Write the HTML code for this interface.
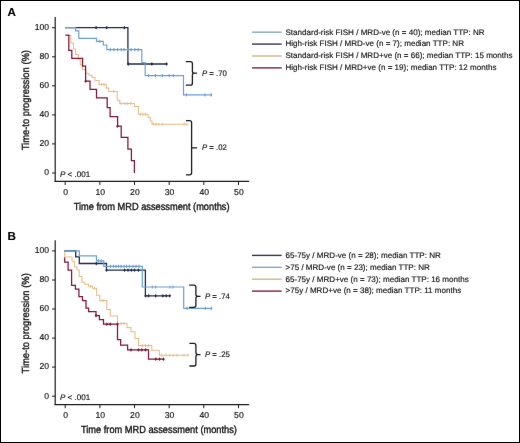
<!DOCTYPE html>
<html><head><meta charset="utf-8"><style>
html,body{margin:0;padding:0;background:#fff;}
svg{display:block;font-family:"Liberation Sans", sans-serif;text-rendering:geometricPrecision;}
#w{width:520px;height:443px;overflow:hidden;will-change:transform;}
text{stroke:#111;stroke-width:0.15px;}
</style></head><body><div id="w">
<svg width="520" height="443" viewBox="0 0 520 443">
<defs><filter id="bl" x="0" y="0" width="520" height="443" filterUnits="userSpaceOnUse" color-interpolation-filters="sRGB"><feConvolveMatrix order="3" kernelMatrix="0.00163 0.03713 0.00163 0.03713 0.84497 0.03713 0.00163 0.03713 0.00163" edgeMode="duplicate" preserveAlpha="true"/></filter></defs>
<g filter="url(#bl)">
<rect x="0" y="0" width="520" height="443" fill="#fff"/>
<text x="7.5" y="16.4" font-size="11.6" font-weight="bold" fill="#000" style="stroke:#000;stroke-width:0.15px">A</text>
<line x1="55.2" y1="17.0" x2="55.2" y2="181.9" stroke="#1a1a1a" stroke-width="1.2"/>
<line x1="54.6" y1="181.4" x2="249.2" y2="181.4" stroke="#1a1a1a" stroke-width="1.2"/>
<line x1="52" y1="173.0" x2="55.2" y2="173.0" stroke="#1a1a1a" stroke-width="1"/>
<text x="49.1" y="175.35" font-size="8.6" text-anchor="end" fill="#111">0</text>
<line x1="52" y1="143.9" x2="55.2" y2="143.9" stroke="#1a1a1a" stroke-width="1"/>
<text x="49.1" y="146.29" font-size="8.6" text-anchor="end" fill="#111">20</text>
<line x1="52" y1="114.9" x2="55.2" y2="114.9" stroke="#1a1a1a" stroke-width="1"/>
<text x="49.1" y="117.23" font-size="8.6" text-anchor="end" fill="#111">40</text>
<line x1="52" y1="85.8" x2="55.2" y2="85.8" stroke="#1a1a1a" stroke-width="1"/>
<text x="49.1" y="88.17" font-size="8.6" text-anchor="end" fill="#111">60</text>
<line x1="52" y1="56.8" x2="55.2" y2="56.8" stroke="#1a1a1a" stroke-width="1"/>
<text x="49.1" y="59.11" font-size="8.6" text-anchor="end" fill="#111">80</text>
<line x1="52" y1="27.7" x2="55.2" y2="27.7" stroke="#1a1a1a" stroke-width="1"/>
<text x="49.1" y="30.05" font-size="8.6" text-anchor="end" fill="#111">100</text>
<line x1="65.2" y1="181.4" x2="65.2" y2="185.0" stroke="#1a1a1a" stroke-width="1"/>
<text x="65.6" y="195.0" font-size="8.6" text-anchor="middle" fill="#111">0</text>
<line x1="99.9" y1="181.4" x2="99.9" y2="185.0" stroke="#1a1a1a" stroke-width="1"/>
<text x="100.3" y="195.0" font-size="8.6" text-anchor="middle" fill="#111">10</text>
<line x1="134.5" y1="181.4" x2="134.5" y2="185.0" stroke="#1a1a1a" stroke-width="1"/>
<text x="134.9" y="195.0" font-size="8.6" text-anchor="middle" fill="#111">20</text>
<line x1="169.2" y1="181.4" x2="169.2" y2="185.0" stroke="#1a1a1a" stroke-width="1"/>
<text x="169.6" y="195.0" font-size="8.6" text-anchor="middle" fill="#111">30</text>
<line x1="203.8" y1="181.4" x2="203.8" y2="185.0" stroke="#1a1a1a" stroke-width="1"/>
<text x="204.2" y="195.0" font-size="8.6" text-anchor="middle" fill="#111">40</text>
<line x1="238.5" y1="181.4" x2="238.5" y2="185.0" stroke="#1a1a1a" stroke-width="1"/>
<text x="238.9" y="195.0" font-size="8.6" text-anchor="middle" fill="#111">50</text>
<text x="73.7" y="209.8" font-size="10.3" textLength="155.9" lengthAdjust="spacingAndGlyphs" fill="#111" style="stroke-width:0.35px">Time from MRD assessment (months)</text>
<text transform="translate(28.6,150.3) rotate(-90)" x="0" y="0" font-size="10.3" textLength="100.3" lengthAdjust="spacingAndGlyphs" fill="#111" style="stroke-width:0.35px">Time-to progression (%)</text>
<text x="60.0" y="176.9" font-size="8.05" fill="#111"><tspan font-style="italic">P</tspan> &lt; .001</text>
<line x1="252" y1="32.2" x2="281.7" y2="32.2" stroke="#86a6c6" stroke-width="1.4"/>
<text x="285.5" y="34.55" font-size="8.05" fill="#111">Standard-risk FISH / MRD-ve (n = 40); median TTP: NR</text>
<line x1="252" y1="44.1" x2="281.7" y2="44.1" stroke="#30374f" stroke-width="1.4"/>
<text x="285.5" y="46.45" font-size="8.05" fill="#111">High-risk FISH / MRD-ve (n = 7); median TTP: NR</text>
<line x1="252" y1="56.0" x2="281.7" y2="56.0" stroke="#cdb786" stroke-width="1.4"/>
<text x="285.5" y="58.35" font-size="8.05" fill="#111">Standard-risk FISH / MRD+ve (n = 66); median TTP: 15 months</text>
<line x1="252" y1="67.9" x2="281.7" y2="67.9" stroke="#7a2040" stroke-width="1.4"/>
<text x="285.5" y="70.25" font-size="8.05" fill="#111">High-risk FISH / MRD+ve (n = 19); median TTP: 12 months</text>
<polyline points="65.5,35.4 70.8,35.4 70.8,42.9 73.5,42.9 73.5,49.0 75.6,49.0 75.6,54.4 78.3,54.4 78.3,59.2 80.3,59.2 80.3,64.6 82.3,64.6 82.3,69.4 85.7,69.4 85.7,73.3 89.0,73.3 89.0,75.3 92.0,75.3 92.0,77.4 95.0,77.4 95.0,80.5 99.0,80.5 99.0,84.4 106.3,84.4 106.3,88.1 108.7,88.1 108.7,91.5 117.2,91.5 117.2,100.3 119.8,100.3 119.8,103.5 134.4,103.5 134.4,106.4 138.4,106.4 138.4,114.3 148.2,114.3 148.2,117.5 150.2,117.5 150.2,121.0 152.0,121.0 152.0,124.2 188.3,124.2" fill="none" stroke="#e5bc86" stroke-width="1.05"/>
<line x1="101.7" y1="82.9" x2="101.7" y2="85.9" stroke="#e5bc86" stroke-width="1.0"/>
<line x1="104.0" y1="82.9" x2="104.0" y2="85.9" stroke="#e5bc86" stroke-width="1.0"/>
<line x1="113.8" y1="90.0" x2="113.8" y2="93.0" stroke="#e5bc86" stroke-width="1.0"/>
<line x1="121.1" y1="102.0" x2="121.1" y2="105.0" stroke="#e5bc86" stroke-width="1.0"/>
<line x1="125.2" y1="102.0" x2="125.2" y2="105.0" stroke="#e5bc86" stroke-width="1.0"/>
<line x1="127.7" y1="102.0" x2="127.7" y2="105.0" stroke="#e5bc86" stroke-width="1.0"/>
<line x1="130.7" y1="102.0" x2="130.7" y2="105.0" stroke="#e5bc86" stroke-width="1.0"/>
<line x1="140.4" y1="112.8" x2="140.4" y2="115.8" stroke="#e5bc86" stroke-width="1.0"/>
<line x1="142.9" y1="112.8" x2="142.9" y2="115.8" stroke="#e5bc86" stroke-width="1.0"/>
<line x1="145.5" y1="112.8" x2="145.5" y2="115.8" stroke="#e5bc86" stroke-width="1.0"/>
<line x1="153.7" y1="122.7" x2="153.7" y2="125.7" stroke="#e5bc86" stroke-width="1.0"/>
<line x1="156.0" y1="122.7" x2="156.0" y2="125.7" stroke="#e5bc86" stroke-width="1.0"/>
<line x1="158.8" y1="122.7" x2="158.8" y2="125.7" stroke="#e5bc86" stroke-width="1.0"/>
<line x1="162.3" y1="122.7" x2="162.3" y2="125.7" stroke="#e5bc86" stroke-width="1.0"/>
<line x1="184.2" y1="122.7" x2="184.2" y2="125.7" stroke="#e5bc86" stroke-width="1.0"/>
<line x1="186.8" y1="122.7" x2="186.8" y2="125.7" stroke="#e5bc86" stroke-width="1.0"/>
<polyline points="65.5,35.2 68.8,35.2 68.8,50.4 71.8,50.4 71.8,58.3 82.6,58.3 82.6,66.1 85.6,66.1 85.6,81.2 90.0,81.2 90.0,89.3 96.5,89.3 96.5,97.8 107.2,97.8 107.2,107.5 110.1,107.5 110.1,116.7 117.6,116.7 117.6,126.2 121.2,126.2 121.2,137.4 127.9,137.4 127.9,149.2 131.4,149.2 131.4,160.6 134.4,160.6 134.4,173.0 134.4,173.0" fill="none" stroke="#80133a" stroke-width="1.25"/>
<path d="M85.6,79.3 L86.9,81.2 L85.6,83.1 L84.3,81.2Z" fill="#80133a"/>
<path d="M117.4,124.3 L118.7,126.2 L117.4,128.1 L116.1,126.2Z" fill="#80133a"/>
<polyline points="65.0,27.7 127.9,27.7 127.9,64.0 166.9,64.0" fill="none" stroke="#222a4c" stroke-width="1.3"/>
<path d="M96.1,25.8 L97.4,27.7 L96.1,29.6 L94.8,27.7Z" fill="#222a4c"/>
<path d="M106.7,25.8 L108.0,27.7 L106.7,29.6 L105.4,27.7Z" fill="#222a4c"/>
<path d="M124.4,25.8 L125.7,27.7 L124.4,29.6 L123.1,27.7Z" fill="#222a4c"/>
<path d="M128.2,62.1 L129.5,64.0 L128.2,65.9 L126.9,64.0Z" fill="#222a4c"/>
<path d="M151.9,62.1 L153.2,64.0 L151.9,65.9 L150.6,64.0Z" fill="#222a4c"/>
<path d="M166.6,62.1 L167.9,64.0 L166.6,65.9 L165.3,64.0Z" fill="#222a4c"/>
<polyline points="65.0,27.7 75.6,27.7 75.6,30.9 78.8,30.9 78.8,38.3 96.5,38.3 96.5,41.4 103.3,41.4 103.3,45.0 106.8,45.0 106.8,49.7 141.8,49.7 141.8,62.7 145.2,62.7 145.2,75.6 183.5,75.6 183.5,94.9 211.9,94.9" fill="none" stroke="#6a9fd2" stroke-width="1.2"/>
<line x1="99.8" y1="39.8" x2="99.8" y2="43.0" stroke="#6a9fd2" stroke-width="1.1"/>
<line x1="110.3" y1="48.1" x2="110.3" y2="51.3" stroke="#6a9fd2" stroke-width="1.1"/>
<line x1="113.9" y1="48.1" x2="113.9" y2="51.3" stroke="#6a9fd2" stroke-width="1.1"/>
<line x1="117.6" y1="48.1" x2="117.6" y2="51.3" stroke="#6a9fd2" stroke-width="1.1"/>
<line x1="121.3" y1="48.1" x2="121.3" y2="51.3" stroke="#6a9fd2" stroke-width="1.1"/>
<line x1="124.0" y1="48.1" x2="124.0" y2="51.3" stroke="#6a9fd2" stroke-width="1.1"/>
<line x1="127.7" y1="48.1" x2="127.7" y2="51.3" stroke="#6a9fd2" stroke-width="1.1"/>
<line x1="131.1" y1="48.1" x2="131.1" y2="51.3" stroke="#6a9fd2" stroke-width="1.1"/>
<line x1="134.9" y1="48.1" x2="134.9" y2="51.3" stroke="#6a9fd2" stroke-width="1.1"/>
<line x1="138.2" y1="48.1" x2="138.2" y2="51.3" stroke="#6a9fd2" stroke-width="1.1"/>
<line x1="148.5" y1="74.0" x2="148.5" y2="77.2" stroke="#6a9fd2" stroke-width="1.1"/>
<line x1="155.4" y1="74.0" x2="155.4" y2="77.2" stroke="#6a9fd2" stroke-width="1.1"/>
<line x1="162.3" y1="74.0" x2="162.3" y2="77.2" stroke="#6a9fd2" stroke-width="1.1"/>
<line x1="169.2" y1="74.0" x2="169.2" y2="77.2" stroke="#6a9fd2" stroke-width="1.1"/>
<line x1="173.3" y1="74.0" x2="173.3" y2="77.2" stroke="#6a9fd2" stroke-width="1.1"/>
<line x1="186.5" y1="93.3" x2="186.5" y2="96.5" stroke="#6a9fd2" stroke-width="1.1"/>
<line x1="205.0" y1="93.3" x2="205.0" y2="96.5" stroke="#6a9fd2" stroke-width="1.1"/>
<line x1="211.3" y1="93.3" x2="211.3" y2="96.5" stroke="#6a9fd2" stroke-width="1.1"/>
<path d="M185.8,61.6 H190.4 Q192.4,61.6 192.4,63.6 V71.2 Q192.4,73.2 194.4,73.2 H197.0 M194.4,73.2 Q192.4,73.2 192.4,75.2 V83.2 Q192.4,85.2 190.4,85.2 H185.8" fill="none" stroke="#1a1a1a" stroke-width="1.3"/>
<text x="201.9" y="75.7" font-size="8.05" textLength="24.9" lengthAdjust="spacingAndGlyphs" fill="#111"><tspan font-style="italic">P</tspan> = .70</text>
<path d="M186,120.7 H189.6 Q191.6,120.7 191.6,122.7 V172.8 Q191.6,174.8 189.6,174.8 H186 M191.6,147.9 H197.1" fill="none" stroke="#1a1a1a" stroke-width="1.3"/>
<text x="201.9" y="150.4" font-size="8.05" textLength="24.9" lengthAdjust="spacingAndGlyphs" fill="#111"><tspan font-style="italic">P</tspan> = .02</text>
<text x="7.5" y="239.6" font-size="11.6" font-weight="bold" fill="#000" style="stroke:#000;stroke-width:0.15px">B</text>
<line x1="55.2" y1="240.2" x2="55.2" y2="405.1" stroke="#1a1a1a" stroke-width="1.2"/>
<line x1="54.6" y1="404.6" x2="249.2" y2="404.6" stroke="#1a1a1a" stroke-width="1.2"/>
<line x1="52" y1="396.2" x2="55.2" y2="396.2" stroke="#1a1a1a" stroke-width="1"/>
<text x="49.1" y="398.55" font-size="8.6" text-anchor="end" fill="#111">0</text>
<line x1="52" y1="367.1" x2="55.2" y2="367.1" stroke="#1a1a1a" stroke-width="1"/>
<text x="49.1" y="369.49" font-size="8.6" text-anchor="end" fill="#111">20</text>
<line x1="52" y1="338.1" x2="55.2" y2="338.1" stroke="#1a1a1a" stroke-width="1"/>
<text x="49.1" y="340.43" font-size="8.6" text-anchor="end" fill="#111">40</text>
<line x1="52" y1="309.0" x2="55.2" y2="309.0" stroke="#1a1a1a" stroke-width="1"/>
<text x="49.1" y="311.37" font-size="8.6" text-anchor="end" fill="#111">60</text>
<line x1="52" y1="280.0" x2="55.2" y2="280.0" stroke="#1a1a1a" stroke-width="1"/>
<text x="49.1" y="282.31" font-size="8.6" text-anchor="end" fill="#111">80</text>
<line x1="52" y1="250.9" x2="55.2" y2="250.9" stroke="#1a1a1a" stroke-width="1"/>
<text x="49.1" y="253.25" font-size="8.6" text-anchor="end" fill="#111">100</text>
<line x1="65.2" y1="404.6" x2="65.2" y2="408.2" stroke="#1a1a1a" stroke-width="1"/>
<text x="65.6" y="418.2" font-size="8.6" text-anchor="middle" fill="#111">0</text>
<line x1="99.9" y1="404.6" x2="99.9" y2="408.2" stroke="#1a1a1a" stroke-width="1"/>
<text x="100.3" y="418.2" font-size="8.6" text-anchor="middle" fill="#111">10</text>
<line x1="134.5" y1="404.6" x2="134.5" y2="408.2" stroke="#1a1a1a" stroke-width="1"/>
<text x="134.9" y="418.2" font-size="8.6" text-anchor="middle" fill="#111">20</text>
<line x1="169.2" y1="404.6" x2="169.2" y2="408.2" stroke="#1a1a1a" stroke-width="1"/>
<text x="169.6" y="418.2" font-size="8.6" text-anchor="middle" fill="#111">30</text>
<line x1="203.8" y1="404.6" x2="203.8" y2="408.2" stroke="#1a1a1a" stroke-width="1"/>
<text x="204.2" y="418.2" font-size="8.6" text-anchor="middle" fill="#111">40</text>
<line x1="238.5" y1="404.6" x2="238.5" y2="408.2" stroke="#1a1a1a" stroke-width="1"/>
<text x="238.9" y="418.2" font-size="8.6" text-anchor="middle" fill="#111">50</text>
<text x="81.0" y="433.0" font-size="10.3" textLength="155.9" lengthAdjust="spacingAndGlyphs" fill="#111" style="stroke-width:0.35px">Time from MRD assessment (months)</text>
<text transform="translate(28.6,373.5) rotate(-90)" x="0" y="0" font-size="10.3" textLength="100.3" lengthAdjust="spacingAndGlyphs" fill="#111" style="stroke-width:0.35px">Time-to progression (%)</text>
<text x="60.0" y="400.1" font-size="8.05" fill="#111"><tspan font-style="italic">P</tspan> &lt; .001</text>
<line x1="252" y1="255.4" x2="281.7" y2="255.4" stroke="#30374f" stroke-width="1.4"/>
<text x="285.5" y="257.75" font-size="8.05" fill="#111">65-75y / MRD-ve (n = 28); median TTP: NR</text>
<line x1="252" y1="267.3" x2="281.7" y2="267.3" stroke="#86a6c6" stroke-width="1.4"/>
<text x="285.5" y="269.65" font-size="8.05" fill="#111">&gt;75 / MRD-ve (n = 23); median TTP: NR</text>
<line x1="252" y1="279.2" x2="281.7" y2="279.2" stroke="#cdb786" stroke-width="1.4"/>
<text x="285.5" y="281.55" font-size="8.05" fill="#111">65-75y / MRD+ve (n = 73); median TTP: 16 months</text>
<line x1="252" y1="291.1" x2="281.7" y2="291.1" stroke="#7a2040" stroke-width="1.4"/>
<text x="285.5" y="293.45" font-size="8.05" fill="#111">&gt;75y / MRD+ve (n = 38); median TTP: 11 months</text>
<polyline points="64.7,250.8 64.7,250.8 64.7,257.0 72.0,257.0 72.0,261.3 74.4,261.3 74.4,267.0 77.0,267.0 77.0,270.0 79.2,270.0 79.2,276.4 82.0,276.4 82.0,282.3 84.8,282.3 84.8,284.3 88.5,284.3 88.5,286.3 92.5,286.3 92.5,288.3 96.6,288.3 96.6,295.3 99.8,295.3 99.8,300.6 106.8,300.6 106.8,309.5 110.2,309.5 110.2,315.9 117.5,315.9 117.5,323.5 127.0,323.5 127.0,327.6 131.0,327.6 131.0,331.7 135.0,331.7 135.0,338.5 138.5,338.5 138.5,345.6 151.8,345.6 151.8,350.3 159.3,350.3 159.3,355.2 188.5,355.2" fill="none" stroke="#e5bc86" stroke-width="1.05"/>
<line x1="90.5" y1="284.8" x2="90.5" y2="287.8" stroke="#e5bc86" stroke-width="1.0"/>
<line x1="94.5" y1="286.8" x2="94.5" y2="289.8" stroke="#e5bc86" stroke-width="1.0"/>
<line x1="103.0" y1="299.1" x2="103.0" y2="302.1" stroke="#e5bc86" stroke-width="1.0"/>
<line x1="121.0" y1="322.0" x2="121.0" y2="325.0" stroke="#e5bc86" stroke-width="1.0"/>
<line x1="124.0" y1="322.0" x2="124.0" y2="325.0" stroke="#e5bc86" stroke-width="1.0"/>
<line x1="142.5" y1="344.1" x2="142.5" y2="347.1" stroke="#e5bc86" stroke-width="1.0"/>
<line x1="145.5" y1="344.1" x2="145.5" y2="347.1" stroke="#e5bc86" stroke-width="1.0"/>
<line x1="148.6" y1="344.1" x2="148.6" y2="347.1" stroke="#e5bc86" stroke-width="1.0"/>
<line x1="161.8" y1="353.7" x2="161.8" y2="356.7" stroke="#e5bc86" stroke-width="1.0"/>
<line x1="165.9" y1="353.7" x2="165.9" y2="356.7" stroke="#e5bc86" stroke-width="1.0"/>
<line x1="169.9" y1="353.7" x2="169.9" y2="356.7" stroke="#e5bc86" stroke-width="1.0"/>
<line x1="173.3" y1="353.7" x2="173.3" y2="356.7" stroke="#e5bc86" stroke-width="1.0"/>
<line x1="177.0" y1="353.7" x2="177.0" y2="356.7" stroke="#e5bc86" stroke-width="1.0"/>
<line x1="184.0" y1="353.7" x2="184.0" y2="356.7" stroke="#e5bc86" stroke-width="1.0"/>
<line x1="188.0" y1="353.7" x2="188.0" y2="356.7" stroke="#e5bc86" stroke-width="1.0"/>
<polyline points="64.7,257.5 64.7,257.5 64.7,262.0 68.1,262.0 68.1,270.0 71.6,270.0 71.6,285.4 75.4,285.4 75.4,289.1 78.9,289.1 78.9,296.7 82.5,296.7 82.5,300.5 86.0,300.5 86.0,308.1 88.6,308.1 88.6,311.6 96.0,311.6 96.0,315.7 99.4,315.7 99.4,319.7 103.5,319.7 103.5,324.2 117.5,324.2 117.5,339.5 120.6,339.5 120.6,345.2 127.6,345.2 127.6,349.9 148.5,349.9 148.5,359.2 164.0,359.2" fill="none" stroke="#80133a" stroke-width="1.25"/>
<path d="M96.0,313.8 L97.3,315.7 L96.0,317.6 L94.7,315.7Z" fill="#80133a"/>
<path d="M106.8,322.3 L108.1,324.2 L106.8,326.1 L105.5,324.2Z" fill="#80133a"/>
<path d="M110.2,322.3 L111.5,324.2 L110.2,326.1 L108.9,324.2Z" fill="#80133a"/>
<path d="M117.5,322.3 L118.8,324.2 L117.5,326.1 L116.2,324.2Z" fill="#80133a"/>
<path d="M131.0,348.0 L132.3,349.9 L131.0,351.8 L129.7,349.9Z" fill="#80133a"/>
<path d="M138.5,348.0 L139.8,349.9 L138.5,351.8 L137.2,349.9Z" fill="#80133a"/>
<path d="M141.8,348.0 L143.1,349.9 L141.8,351.8 L140.5,349.9Z" fill="#80133a"/>
<path d="M145.5,348.0 L146.8,349.9 L145.5,351.8 L144.2,349.9Z" fill="#80133a"/>
<path d="M155.8,357.3 L157.1,359.2 L155.8,361.1 L154.5,359.2Z" fill="#80133a"/>
<path d="M159.5,357.3 L160.8,359.2 L159.5,361.1 L158.2,359.2Z" fill="#80133a"/>
<path d="M163.5,357.3 L164.8,359.2 L163.5,361.1 L162.2,359.2Z" fill="#80133a"/>
<polyline points="64.4,250.8 75.7,250.8 75.7,256.8 79.3,256.8 79.3,263.5 106.5,263.5 106.5,270.2 145.4,270.2 145.4,295.8 170.0,295.8" fill="none" stroke="#222a4c" stroke-width="1.3"/>
<path d="M96.3,261.6 L97.6,263.5 L96.3,265.4 L95.0,263.5Z" fill="#222a4c"/>
<path d="M106.5,268.3 L107.8,270.2 L106.5,272.1 L105.2,270.2Z" fill="#222a4c"/>
<path d="M124.6,268.3 L125.9,270.2 L124.6,272.1 L123.3,270.2Z" fill="#222a4c"/>
<path d="M128.0,268.3 L129.3,270.2 L128.0,272.1 L126.7,270.2Z" fill="#222a4c"/>
<path d="M131.3,268.3 L132.6,270.2 L131.3,272.1 L130.0,270.2Z" fill="#222a4c"/>
<path d="M134.5,268.3 L135.8,270.2 L134.5,272.1 L133.2,270.2Z" fill="#222a4c"/>
<path d="M138.4,268.3 L139.7,270.2 L138.4,272.1 L137.1,270.2Z" fill="#222a4c"/>
<path d="M145.6,293.9 L146.9,295.8 L145.6,297.7 L144.3,295.8Z" fill="#222a4c"/>
<path d="M148.5,293.9 L149.8,295.8 L148.5,297.7 L147.2,295.8Z" fill="#222a4c"/>
<path d="M155.7,293.9 L157.0,295.8 L155.7,297.7 L154.4,295.8Z" fill="#222a4c"/>
<path d="M162.8,293.9 L164.1,295.8 L162.8,297.7 L161.5,295.8Z" fill="#222a4c"/>
<path d="M166.2,293.9 L167.5,295.8 L166.2,297.7 L164.9,295.8Z" fill="#222a4c"/>
<path d="M169.8,293.9 L171.1,295.8 L169.8,297.7 L168.5,295.8Z" fill="#222a4c"/>
<polyline points="64.4,250.8 79.3,250.8 79.3,255.9 96.5,255.9 96.5,260.8 103.8,260.8 103.8,266.3 142.3,266.3 142.3,287.0 183.7,287.0 183.7,308.3 212.4,308.3" fill="none" stroke="#6a9fd2" stroke-width="1.2"/>
<line x1="98.5" y1="259.2" x2="98.5" y2="262.4" stroke="#6a9fd2" stroke-width="1.1"/>
<line x1="101.2" y1="259.2" x2="101.2" y2="262.4" stroke="#6a9fd2" stroke-width="1.1"/>
<line x1="110.5" y1="264.7" x2="110.5" y2="267.9" stroke="#6a9fd2" stroke-width="1.1"/>
<line x1="113.5" y1="264.7" x2="113.5" y2="267.9" stroke="#6a9fd2" stroke-width="1.1"/>
<line x1="116.0" y1="264.7" x2="116.0" y2="267.9" stroke="#6a9fd2" stroke-width="1.1"/>
<line x1="118.5" y1="264.7" x2="118.5" y2="267.9" stroke="#6a9fd2" stroke-width="1.1"/>
<line x1="121.0" y1="264.7" x2="121.0" y2="267.9" stroke="#6a9fd2" stroke-width="1.1"/>
<line x1="124.0" y1="264.7" x2="124.0" y2="267.9" stroke="#6a9fd2" stroke-width="1.1"/>
<line x1="126.5" y1="264.7" x2="126.5" y2="267.9" stroke="#6a9fd2" stroke-width="1.1"/>
<line x1="129.5" y1="264.7" x2="129.5" y2="267.9" stroke="#6a9fd2" stroke-width="1.1"/>
<line x1="133.0" y1="264.7" x2="133.0" y2="267.9" stroke="#6a9fd2" stroke-width="1.1"/>
<line x1="136.0" y1="264.7" x2="136.0" y2="267.9" stroke="#6a9fd2" stroke-width="1.1"/>
<line x1="139.0" y1="264.7" x2="139.0" y2="267.9" stroke="#6a9fd2" stroke-width="1.1"/>
<line x1="152.3" y1="285.4" x2="152.3" y2="288.6" stroke="#6a9fd2" stroke-width="1.1"/>
<line x1="155.7" y1="285.4" x2="155.7" y2="288.6" stroke="#6a9fd2" stroke-width="1.1"/>
<line x1="170.0" y1="285.4" x2="170.0" y2="288.6" stroke="#6a9fd2" stroke-width="1.1"/>
<line x1="173.0" y1="285.4" x2="173.0" y2="288.6" stroke="#6a9fd2" stroke-width="1.1"/>
<line x1="187.1" y1="306.7" x2="187.1" y2="309.9" stroke="#6a9fd2" stroke-width="1.1"/>
<line x1="205.3" y1="306.7" x2="205.3" y2="309.9" stroke="#6a9fd2" stroke-width="1.1"/>
<line x1="211.3" y1="306.7" x2="211.3" y2="309.9" stroke="#6a9fd2" stroke-width="1.1"/>
<path d="M189.2,285.1 H193.9 Q195.9,285.1 195.9,287.1 V294.3 Q195.9,296.3 197.9,296.3 H200.5 M197.9,296.3 Q195.9,296.3 195.9,298.3 V305.3 Q195.9,307.3 193.9,307.3 H189.2" fill="none" stroke="#1a1a1a" stroke-width="1.3"/>
<text x="204.9" y="298.8" font-size="8.05" textLength="24.9" lengthAdjust="spacingAndGlyphs" fill="#111"><tspan font-style="italic">P</tspan> = .74</text>
<path d="M189.4,343.4 H193.9 Q195.9,343.4 195.9,345.4 V352.6 Q195.9,354.6 197.9,354.6 H200.5 M197.9,354.6 Q195.9,354.6 195.9,356.6 V364.0 Q195.9,366.0 193.9,366.0 H189.4" fill="none" stroke="#1a1a1a" stroke-width="1.3"/>
<text x="204.9" y="357.1" font-size="8.05" textLength="24.9" lengthAdjust="spacingAndGlyphs" fill="#111"><tspan font-style="italic">P</tspan> = .25</text>
</g>
<rect x="0.5" y="0.5" width="519" height="442" fill="none" stroke="#000" stroke-width="1" shape-rendering="crispEdges"/>
</svg></div></body></html>
